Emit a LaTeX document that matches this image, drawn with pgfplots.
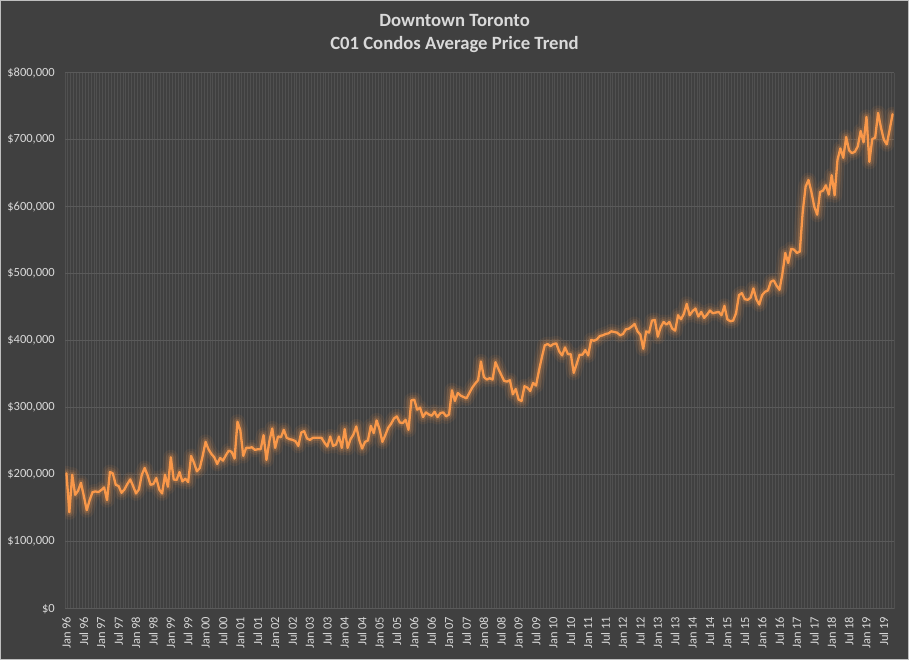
\documentclass[border=0pt]{standalone}
\usepackage{pgfplots}
\pgfplotsset{compat=1.18}
\usepackage{pgfplotstable}
\usepackage{fontspec}
\setmainfont{Carlito}
\definecolor{bg}{HTML}{404040}
\definecolor{hgrid}{HTML}{5A5A5A}
\definecolor{vgrid}{HTML}{505050}
\definecolor{lineor}{HTML}{F9984A}
\definecolor{txt}{HTML}{D9D9D9}
\definecolor{bord}{HTML}{BFBFBF}

\pgfplotstableread{
i v
0 202
1 144
2 200
3 170
4 176
5 188
6 168
7 147
8 162
9 174
10 175
11 174
12 177
13 181
14 162
15 204
16 202
17 185
18 183
19 173
20 178
21 186
22 193
23 183
24 172
25 178
26 200
27 210
28 199
29 185
30 186
31 195
32 178
33 172
34 200
35 182
36 226
37 193
38 192
39 204
40 190
41 194
42 189
43 228
44 218
45 205
46 210
47 228
48 249
49 238
50 231
51 226
52 216
53 225
54 221
55 229
56 236
57 234
58 224
59 279
60 266
61 228
62 240
63 240
64 241
65 237
66 238
67 238
68 259
69 222
70 250
71 269
72 240
73 257
74 256
75 267
76 255
77 253
78 252
79 250
80 243
81 263
82 265
83 254
84 252
85 255
86 255
87 255
88 255
89 248
90 242
91 257
92 243
93 245
94 257
95 240
96 268
97 240
98 253
99 260
100 272
101 252
102 239
103 249
104 251
105 273
106 262
107 281
108 268
109 249
110 259
111 270
112 276
113 284
114 287
115 278
116 277
117 282
118 267
119 311
120 312
121 297
122 300
123 286
124 293
125 290
126 288
127 294
128 286
129 292
130 293
131 287
132 290
133 326
134 310
135 322
136 318
137 316
138 314
139 322
140 330
141 336
142 341
143 369
144 346
145 342
146 344
147 342
148 368
149 358
150 349
151 340
152 339
153 341
154 320
155 328
156 312
157 310
158 332
159 330
160 325
161 337
162 333
163 355
164 375
165 393
166 395
167 392
168 395
169 396
170 384
171 378
172 390
173 380
174 380
175 352
176 365
177 379
178 379
179 386
180 378
181 401
182 400
183 402
184 407
185 408
186 410
187 411
188 414
189 413
190 412
191 408
192 410
193 417
194 418
195 421
196 425
197 414
198 409
199 388
200 414
201 412
202 430
203 431
204 406
205 420
206 428
207 424
208 428
209 418
210 415
211 438
212 432
213 440
214 455
215 438
216 444
217 448
218 436
219 443
220 434
221 439
222 445
223 441
224 442
225 443
226 438
227 452
228 432
229 429
230 430
231 441
232 468
233 471
234 462
235 461
236 464
237 478
238 462
239 454
240 468
241 473
242 475
243 488
244 490
245 482
246 476
247 500
248 531
249 516
250 537
251 536
252 531
253 533
254 592
255 630
256 640
257 622
258 600
259 588
260 622
261 624
262 632
263 618
264 647
265 617
266 670
267 687
268 673
269 704
270 684
271 680
272 682
273 690
274 713
275 696
276 734
277 667
278 701
279 703
280 740
281 718
282 700
283 693
284 715
285 738
}\pricedata

\begin{document}
\begin{tikzpicture}
\fill[bg] (0,0) rectangle (909bp,660bp);
\draw[bord, line width=1bp] (0.5bp,0.5bp) rectangle (908.5bp,659.5bp);
\path[use as bounding box] (0,0) rectangle (909bp,660bp);
\node[font=\fontsize{18.7bp}{22bp}\selectfont\bfseries, text=txt] at (454.5bp,639bp) {Downtown Toronto};
\node[font=\fontsize{18.7bp}{22bp}\selectfont\bfseries, text=txt] at (454.5bp,615bp) {C01 Condos Average Price Trend};
\begin{axis}[
  at={(65bp,51.3bp)}, anchor=south west,
  width=829bp, height=536bp, scale only axis,
  xmin=-0.5, xmax=285.5, ymin=0, ymax=800,
  axis line style={draw=none},
  xtick={0,6,...,282},
  xticklabels={Jan 96,Jul 96,Jan 97,Jul 97,Jan 98,Jul 98,Jan 99,Jul 99,
    Jan 00,Jul 00,Jan 01,Jul 01,Jan 02,Jul 02,Jan 03,Jul 03,Jan 04,Jul 04,
    Jan 05,Jul 05,Jan 06,Jul 06,Jan 07,Jul 07,Jan 08,Jul 08,Jan 09,Jul 09,
    Jan 10,Jul 10,Jan 11,Jul 11,Jan 12,Jul 12,Jan 13,Jul 13,Jan 14,Jul 14,
    Jan 15,Jul 15,Jan 16,Jul 16,Jan 17,Jul 17,Jan 18,Jul 18,Jan 19,Jul 19},
  minor xtick={-0.5,0.5,...,285.5},
  xminorgrids=true,
  minor grid style={vgrid, line width=0.8bp},
  ytick={0,100,...,800},
  yticklabels={{\$0},{\$100,000},{\$200,000},{\$300,000},{\$400,000},{\$500,000},{\$600,000},{\$700,000},{\$800,000}},
  ymajorgrids=true,
  major grid style={hgrid, line width=0.9bp},
  major tick length=0pt, minor tick length=0pt,
  tick style={draw=none},
  xticklabel style={rotate=90, anchor=east, inner sep=0pt, font=\fontsize{12.5bp}{14bp}\selectfont, text=txt},
  xticklabel shift=8bp,
  yticklabel style={anchor=east, inner sep=0pt, font=\fontsize{12.5bp}{14bp}\selectfont, text=txt},
  yticklabel shift=10bp,
]
\addplot[lineor, opacity=0.08, line width=15bp, line join=round, line cap=round] table[x=i,y=v] {\pricedata};
\addplot[lineor, opacity=0.12, line width=10bp, line join=round, line cap=round] table[x=i,y=v] {\pricedata};
\addplot[lineor, opacity=0.18, line width=6bp, line join=round, line cap=round] table[x=i,y=v] {\pricedata};
\addplot[lineor, line width=2.3bp, line join=round, line cap=round] table[x=i,y=v] {\pricedata};
\end{axis}
\end{tikzpicture}
\end{document}
